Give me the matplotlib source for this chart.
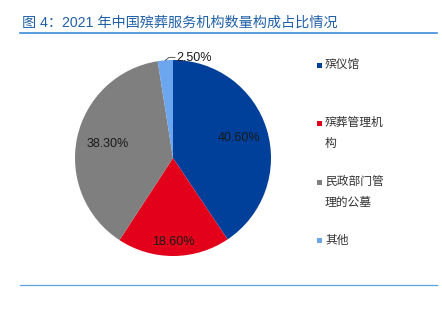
import numpy as np
import matplotlib
matplotlib.use("Agg")
import matplotlib.pyplot as plt
from matplotlib.patches import Rectangle
from matplotlib.lines import Line2D

plt.rcParams['font.family'] = ['Liberation Sans', 'Noto Sans CJK SC', 'DejaVu Sans']

title = "图 4：2021 年中国殡葬服务机构数量构成占比情况"
categories = ["殡仪馆", "殡葬管理机\n构", "民政部门管\n理的公墓", "其他"]
values = [40.6, 18.6, 38.3, 2.5]
value_labels = ["40.60%", "18.60%", "38.30%", "2.50%"]
colors = ["#00409A", "#E2001A", "#7F7F7F", "#6CA6EE"]
label_dist = [0.70, 0.86, 0.68, None]

W, H = 442, 323
fig = plt.figure(figsize=(W / 100, H / 100), dpi=100)

# title and rules
fig.text(22 / W, 1 - 23 / H, title, fontsize=10.2, color="#2060A8",
         ha="left", va="center",
         family=['Liberation Sans', 'Noto Sans CJK SC'])
fig.add_artist(Line2D([20 / W, 437 / W], [1 - 32.5 / H, 1 - 32.5 / H],
                      color="#3C8CDC", lw=1.2))
fig.add_artist(Line2D([20 / W, 437 / W], [1 - 284.5 / H, 1 - 284.5 / H],
                      color="#5AA5E6", lw=0.9))

# pie
cx, cy, r = 173, 158, 98
ax = fig.add_axes([(cx - r) / W, (H - cy - r) / H, 2 * r / W, 2 * r / H])
wedges, _ = ax.pie(values, colors=colors, startangle=90, counterclock=False,
                   radius=1, wedgeprops=dict(linewidth=0))
ax.set_xlim(-1, 1)
ax.set_ylim(-1, 1)
ax.set_aspect('auto')
ax.axis('off')

for w, lab, d in zip(wedges, value_labels, label_dist):
    ang = np.deg2rad((w.theta1 + w.theta2) / 2)
    if d is not None:
        ax.text(d * np.cos(ang), d * np.sin(ang), lab, ha="center", va="center",
                fontsize=9, color="#1a1a1a")
    else:
        x0, y0 = np.cos(ang), np.sin(ang)
        ax.plot([x0, x0 + 0.04, x0 + 0.1], [y0, y0 + 0.03, y0 + 0.03],
                color="#404040", lw=0.6, clip_on=False)
        ax.text(x0 + 0.11, y0 + 0.02, lab, ha="left", va="center",
                fontsize=9, color="#1a1a1a", clip_on=False)

# legend
for i, (cat, c) in enumerate(zip(categories, colors)):
    ytop = 65 + i * 58.5
    fig.add_artist(Rectangle((317 / W, 1 - (ytop + 2.5) / H), 5 / W, 5 / H,
                             transform=fig.transFigure, color=c, lw=0))
    fig.text(325 / W, 1 - (ytop - 7) / H, cat, fontsize=8.5, color="#333333",
             ha="left", va="top", linespacing=1.75,
             family=['Noto Sans CJK SC', 'DejaVu Sans'])

fig.savefig("out.png", dpi=100)
